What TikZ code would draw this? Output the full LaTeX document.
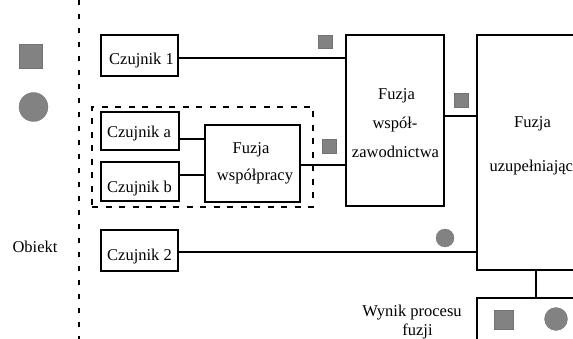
\documentclass[tikz,border=0pt]{standalone}
\usepackage{fontspec}
\setmainfont{Liberation Serif}
\definecolor{mkgray}{RGB}{130,130,130}
\begin{document}
\begin{tikzpicture}[x=1pt,y=-1pt,
  box/.style={draw,line width=1.2pt,rectangle,inner sep=0pt,outer sep=0pt},
  lbl/.style={inner sep=0pt,anchor=base,font=\fontsize{16.5}{18}\selectfont},
  conn/.style={line width=1.2pt},
  sqm/.style={fill=mkgray,draw=black!55,line width=0.3pt,inner sep=0pt,outer sep=0pt,rectangle},
  crm/.style={fill=mkgray,draw=black!55,line width=0.3pt,inner sep=0pt,outer sep=0pt,circle}]
\useasboundingbox (0,0) rectangle (573,339);
\clip (0,0) rectangle (573,339);
% dividing line
\coordinate (dtop) at (79,0);
\coordinate (dbot) at (79,339);
\draw[line width=1.2pt,dash pattern=on 5pt off 9pt] (dtop) -- (dbot);
% object markers
\node[sqm,minimum width=23pt,minimum height=24pt] (osq) at (30.5,56) {};
\node[crm,minimum size=29pt] (ocr) at (33.5,107) {};
\node[lbl] (obiekt) at (35,252) {Obiekt};
% dashed group
\node[draw,line width=1.2pt,dash pattern=on 6pt off 7.5pt,rectangle,minimum width=221pt,minimum height=100pt,inner sep=0pt] (grp) at (202.5,157) {};
% boxes
\node[box,minimum width=77pt,minimum height=41pt] (c1) at (139.5,55.5) {};
\node[box,minimum width=78pt,minimum height=38pt] (ca) at (140,131) {};
\node[box,minimum width=78pt,minimum height=39pt] (cb) at (140,181.5) {};
\node[box,minimum width=95pt,minimum height=77pt] (fw) at (252.5,163.5) {};
\node[box,minimum width=98pt,minimum height=171pt] (zaw) at (395,120.5) {};
\node[box,minimum width=113pt,minimum height=235pt] (uz) at (533.5,152.5) {};
\node[box,minimum width=77pt,minimum height=41pt] (c2) at (139.5,250.5) {};
\node[box,minimum width=113pt,minimum height=62pt] (wyn) at (533.5,329) {};
% labels
\node[lbl] (t1) at (141.5,65) {Czujnik 1};
\node[lbl] (ta) at (139,138) {Czujnik a};
\node[lbl] (tb) at (139.5,193) {Czujnik b};
\node[lbl] (t2) at (139.5,260) {Czujnik 2};
\node[lbl] (tfw1) at (251,154) {Fuzja};
\node[lbl] (tfw2) at (255,181) {współpracy};
\node[lbl] (tz1) at (396.5,100) {Fuzja};
\node[lbl] (tz2) at (395,129) {współ-};
\node[lbl] (tz3) at (395.5,158) {zawodnictwa};
\node[lbl] (tu1) at (532.5,128) {Fuzja};
\node[lbl] (tu2) at (535,172) {uzupełniająca};
\node[lbl] (tw1) at (412,316) {Wynik procesu};
\node[lbl] (tw2) at (417.5,335) {fuzji};
% connectors
\draw[conn] ([yshift=-2.5pt]c1.east) -- ([yshift=-2.5pt]c1.east -| zaw.west);
\draw[conn] ([yshift=-8pt]ca.east) -- ([yshift=-8pt]ca.east -| fw.west);
\draw[conn] ([yshift=6.5pt]cb.east) -- ([yshift=6.5pt]cb.east -| fw.west);
\draw[conn] ([yshift=-1.5pt]fw.east) -- ([yshift=-1.5pt]fw.east -| zaw.west);
\draw[conn] ([yshift=4.5pt]zaw.east) -- ([yshift=4.5pt]zaw.east -| uz.west);
\draw[conn] ([yshift=-1.5pt]c2.east) -- ([yshift=-1.5pt]c2.east -| uz.west);
\draw[conn] ([xshift=2.5pt]uz.south) -- ([xshift=2.5pt]wyn.north);
% flow markers
\node[sqm,minimum width=14pt,minimum height=13pt] (m1) at (325,41.5) {};
\node[sqm,minimum size=14pt] (m2) at (329,146) {};
\node[sqm,minimum size=14pt] (m3) at (461,100) {};
\node[crm,minimum size=18pt] (m4) at (445,238) {};
\node[sqm,minimum size=19pt] (r1) at (503.5,319.5) {};
\node[crm,minimum size=23pt] (r2) at (556,319) {};
\end{tikzpicture}
\end{document}
